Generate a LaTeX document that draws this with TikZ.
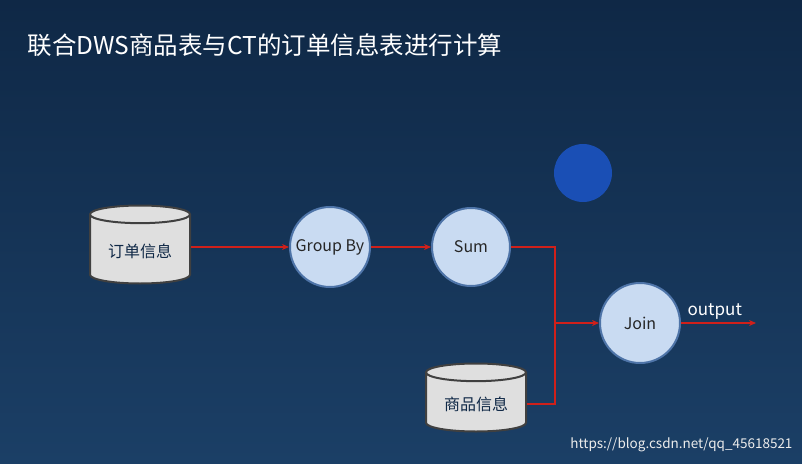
\documentclass[tikz,border=0pt]{standalone}
\usepackage{fontspec}
\setmainfont{Noto Sans CJK SC}
\usetikzlibrary{shapes.geometric,arrows.meta}
\definecolor{bgtop}{HTML}{0F2846}
\definecolor{bgbot}{HTML}{1B3F66}
\definecolor{cfill}{HTML}{C9DBF2}
\definecolor{cedge}{HTML}{4E74A8}
\definecolor{arr}{HTML}{D0201A}
\begin{document}
\begin{tikzpicture}[x=1pt,y=-1pt,
  circ/.style={circle,draw=cedge,line width=2pt,fill=cfill,minimum size=80pt,inner sep=0pt,font=\fontsize{16}{18}\selectfont,text=black!85},
  cyl/.style={cylinder,shape border rotate=90,aspect=0.25,draw=black!75,line width=2pt,fill=gray!25,minimum width=100pt,minimum height=78pt,font=\fontsize{16}{18}\selectfont,text=bgtop},
  link/.style={arr,line width=1.2pt,-{Stealth[length=7pt,width=6pt]}},
  seg/.style={arr,line width=1.2pt}]
\shade[top color=bgtop,bottom color=bgbot] (0,0) rectangle (802,463);
\useasboundingbox (0,0) rectangle (802,463);
\node[anchor=west,text=white,font=\fontsize{24.5}{28}\selectfont] (title) at (24,45) {联合DWS商品表与CT的订单信息表进行计算};
\node[circle,minimum size=58pt,inner sep=0pt,fill={rgb,255:red,26;green,79;blue,181}] (dot) at (583,173) {};
\node[cyl] (order) at (140,251) {订单信息};
\node[cyl,minimum height=68pt] (goods) at (476,404) {商品信息};
\node[circ] (gb) at (330,247) {Group By};
\node[circ,minimum size=78pt] (sum) at (471,247) {Sum};
\node[circ] (join) at (640,323) {Join};
\coordinate (m) at (555,323);
\coordinate (out) at (756,323);
\draw[link] (order.east |- gb) -- (gb.west);
\draw[link] (gb.east) -- (sum.west);
\draw[seg] (sum.east) -| (m);
\draw[seg] (goods.east |- 0,404) -| (m);
\draw[link] (m) -- (join.west);
\draw[link] (join.east) -- node[above,text=white,font=\fontsize{17}{19}\selectfont,pos=0.45] {output} (out);
\node[anchor=south east,text=white!85!gray,font=\fontsize{13.5}{15}\selectfont] (wm) at (796,455) {https://blog.csdn.net/qq\_45618521};
\end{tikzpicture}
\end{document}
